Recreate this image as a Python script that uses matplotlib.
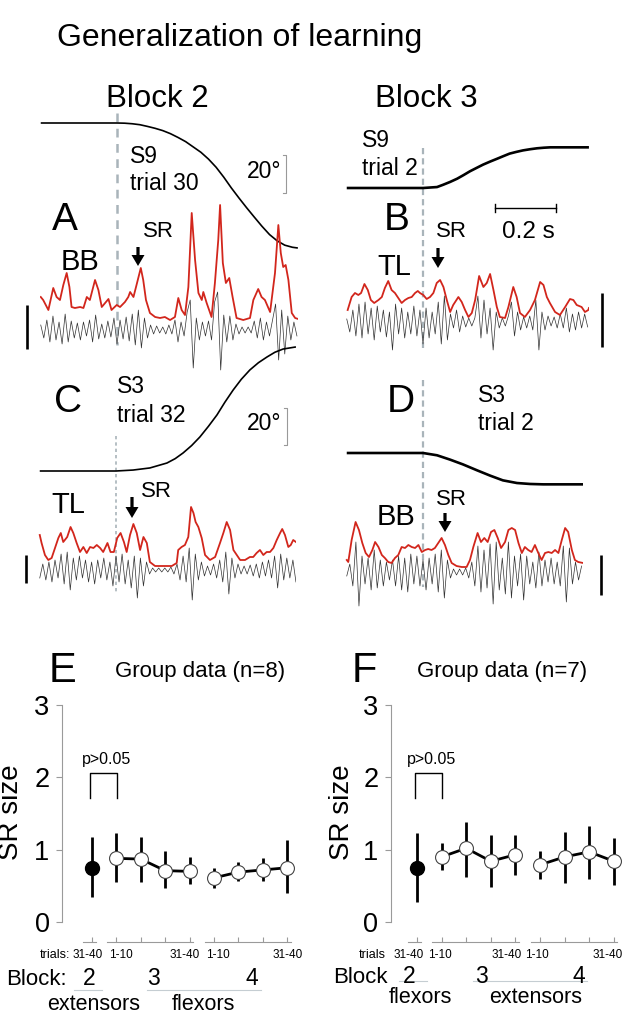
import numpy as np
import matplotlib
matplotlib.use('Agg')
import matplotlib.pyplot as plt
from matplotlib.patches import FancyArrow
from matplotlib.transforms import blended_transform_factory

plt.rcParams['font.family'] = ['Liberation Sans', 'DejaVu Sans']

W, H = 625, 1014

# ------------------------------------------------------------------ data
# joint angle traces (time in ms from perturbation onset, angle in degrees)
angA_t = [-250, 0, 25, 50, 75, 100, 125, 150, 175, 200, 225, 250, 275, 300, 325,
          350, 375, 400, 425, 450, 475, 500, 525, 550, 575, 593]
angA_v = [0, 0, -0.1, -0.4, -0.9, -1.8, -2.8, -4.0, -5.6, -7.6, -9.8, -12.6, -15.4,
          -19.0, -23.3, -28.5, -34.2, -39.5, -44.6, -49.5, -54.3, -58.7, -62.0,
          -64.3, -65.4, -65.8]
angB_t = [-250, 0, 46, 66, 89, 112, 133, 154, 176, 197, 220, 243, 264, 284, 306,
          328, 351, 374, 396, 417, 544]
angB_v = [0, 0, 0.5, 1.7, 3.2, 4.9, 6.8, 8.8, 10.6, 12.3, 13.9, 15.4, 16.8, 18.1,
          19.0, 19.8, 20.4, 20.9, 21.2, 21.4, 21.4]
angC_t = [-250, 0, 56, 111, 167, 194, 220, 248, 275, 303, 331, 357, 384, 411, 439,
          467, 495, 521, 548, 590]
angC_v = [0, 0, 0.5, 1.6, 4.2, 6.5, 9.5, 13.4, 17.9, 23.5, 29.5, 36.2, 42.6, 48.3,
          53.2, 57.0, 60.0, 62.5, 64.2, 65.3]
angD_t = [-250, 0, 46, 89, 131, 177, 220, 262, 308, 351, 394, 525]
angD_v = [0, 0, -1.2, -3.5, -6.0, -9.1, -11.9, -14.4, -15.8, -16.3, -16.5, -16.5]

# rectified / smoothed EMG envelopes (red), arbitrary units
envA_t = [-250, -242, -225, -209, -198, -187, -176, -165, -156, -149, -138, -121, -110,
          -99, -89, -72, -61, -50, -39, -28, -18, -1, 10, 26, 37, 43, 54, 64, 78, 86,
          95, 108, 125, 141, 157, 174, 190, 201, 212, 223, 234, 245, 256, 267, 278,
          283, 294, 310, 321, 332, 338, 347, 357, 368, 379, 392, 414, 436, 447, 463,
          474, 485, 502, 518, 524, 529, 537, 545, 553, 562, 573, 584, 594]
envA_v = [23, 20, 10, 32, 23, 20, 35, 47, 33, 13, 12, 13, 12, 23, 20, 40, 30, 13, 17,
          21, 10, 15, 13, 18, 23, 28, 23, 35, 52, 40, 20, 7, 3, 2, 3, 0, 3, 22, 10, 5,
          33, 107, 60, 27, 20, 28, 17, 3, 37, 80, 115, 57, 37, 42, 23, 2, 0, 2, 20,
          31, 23, 20, 8, 47, 73, 95, 67, 53, 55, 40, 7, 2, 1]
envB_t = [-247, -234, -223, -212, -203, -192, -181, -171, -160, -146, -135, -125, -114,
          -103, -92, -81, -70, -59, -48, -37, -26, -17, -10, 1, 12, 23, 34, 45, 56, 67,
          78, 89, 99, 116, 127, 138, 149, 160, 171, 184, 198, 209, 220, 231, 242, 252,
          269, 280, 296, 307, 318, 334, 351, 367, 384, 395, 406, 416, 433, 449, 466,
          482, 493, 504, 520, 531, 542, 544]
envB_v = [10, 23, 27, 25, 27, 36, 30, 20, 17, 20, 23, 32, 39, 30, 27, 22, 17, 20, 22,
          23, 27, 29, 27, 25, 21, 23, 27, 37, 40, 33, 20, 8, 15, 23, 18, 10, 3, 7, 20,
          44, 33, 37, 46, 30, 13, 3, 2, 13, 33, 23, 7, 3, 10, 20, 38, 35, 23, 17, 8, 5,
          13, 21, 20, 15, 13, 8, 10, 12]
envC_t = [-250, -244, -233, -222, -211, -200, -189, -181, -173, -160, -149, -140, -129,
          -118, -107, -96, -85, -74, -63, -52, -42, -28, -18, -7, 4, 15, 26, 35, 46, 57,
          68, 79, 90, 101, 111, 128, 155, 183, 199, 204, 215, 226, 237, 246, 254, 261,
          270, 281, 292, 308, 325, 341, 352, 363, 374, 385, 396, 407, 423, 439, 450,
          461, 472, 483, 494, 505, 516, 527, 538, 545, 554, 565, 573, 581, 590]
envC_v = [32, 24, 12, 7, 9, 19, 29, 34, 25, 30, 40, 34, 24, 15, 20, 14, 20, 19, 22, 19,
          15, 24, 15, 15, 29, 34, 25, 15, 32, 43, 34, 17, 30, 24, 5, 1, 1, 1, 4, 17,
          20, 22, 30, 60, 54, 45, 40, 29, 12, 7, 10, 24, 34, 45, 37, 17, 12, 7, 7, 10,
          10, 14, 17, 12, 15, 15, 19, 27, 34, 38, 32, 20, 22, 27, 25]
envD_t = [-250, -245, -234, -221, -210, -199, -188, -177, -166, -157, -146, -135, -125,
          -114, -103, -92, -81, -70, -59, -48, -37, -26, -15, -4, 7, 17, 28, 39, 50, 61,
          72, 83, 94, 110, 127, 143, 154, 165, 179, 190, 201, 212, 223, 234, 245, 256,
          269, 280, 291, 302, 313, 324, 334, 345, 356, 367, 378, 389, 400, 411, 422,
          433, 444, 455, 466, 476, 488, 498, 509, 525]
envD_v = [10, 8, 30, 48, 40, 27, 17, 13, 20, 28, 23, 15, 12, 8, 7, 12, 15, 23, 22, 25,
          23, 22, 25, 18, 20, 21, 20, 22, 27, 32, 25, 15, 7, 4, 3, 3, 10, 23, 37, 28,
          32, 28, 38, 40, 32, 22, 28, 40, 42, 40, 27, 17, 23, 20, 18, 25, 17, 10, 17,
          18, 17, 20, 17, 30, 42, 38, 20, 10, 8, 7]

# raw EMG (black), sampled every 10 ms from -250 ms, arbitrary units
rawA_v = [5, -8, 10, -12, 14, -10, 8, -14, 16, -12, 9, -8, 7, -10, 8, -6, 10, -12, 15,
          -9, 6, -8, 9, -7, 12, -14, 10, -9, 13, -11, 16, -15, 20, -18, 12, -8, 5, -4,
          4, -3, 3, -4, 5, -4, 10, -12, 8, -6, 18, 30, -38, 12, -10, 8, -6, 9, -10, 28,
          38, -40, 15, -12, 14, -10, 6, -4, 3, -3, 3, -3, 9, -8, 12, -10, 8, -6, 10,
          26, -30, 20, -24, 14, -10, 8, -6]
rawB_v = [3, -10, 12, -14, 18, -16, 20, -12, 14, -18, 16, -10, 12, -15, 10, -28, 18,
          -12, 14, -16, 10, -12, 16, -14, 12, -22, 14, -16, 10, -12, 20, -22, 26, -18,
          8, -6, 12, -10, 6, -5, 4, -4, 4, 26, -16, 22, -12, 14, -28, 10, -6, 4, -4, 6,
          20, -14, 10, -8, 5, -6, 6, -8, 22, -28, 10, -8, 6, -4, 5, -6, 8, -6, 14, -10,
          8, -8, 10, -6, 8, -5]
rawC_v = [-8, 6, -10, 8, -12, 10, -8, 16, -14, 18, -20, 12, -10, 14, -8, 10, -12, 8,
          -14, 10, -8, 12, -10, 8, -16, 14, -12, 16, -14, 10, -18, 14, -28, 12, -16, 8,
          -4, 2, -2, 2, -2, 2, -2, 3, -4, 6, -10, 14, -12, 22, -30, 16, -10, 8, -6, 4,
          -5, 6, -8, 10, -12, 18, -24, 12, -8, 6, -4, 4, -4, 5, -6, 6, -8, 8, -6, 10,
          -8, 14, -18, 16, -10, 12, -8, 10, -12]
rawD_v = [-4, 8, -14, 30, -34, 16, -12, 14, -18, 22, -16, 12, -14, 10, -8, 12, -14, 16,
          -18, 14, -20, 18, -12, 16, -14, 12, -18, 14, -12, 18, -20, 22, -26, 12, -6, 3,
          -3, 3, -3, 4, -6, 10, -14, 26, -20, 22, -16, 28, -32, 30, -18, 14, -22, 30,
          -26, 16, -14, 18, -28, 16, -12, 10, -16, 20, -14, 12, -10, 14, -12, 10, -14,
          26, -30, 24, -12, 10, -8, 6]
RAW_T0, RAW_DT = -250, 10

# group data (SR size)
trial_labels = ['31-40', '1-10', '', '', '31-40', '1-10', '', '', '31-40']
groups = [[0], [1, 2, 3, 4], [5, 6, 7, 8]]
block_labels = ['2', '3', '4']
E_mean = [0.75, 0.88, 0.87, 0.71, 0.70, 0.61, 0.69, 0.72, 0.75]
E_lo = [0.35, 0.55, 0.55, 0.47, 0.52, 0.47, 0.57, 0.57, 0.40]
E_hi = [1.18, 1.23, 1.18, 0.98, 0.90, 0.75, 0.83, 0.88, 1.13]
F_mean = [0.75, 0.90, 1.02, 0.84, 0.93, 0.79, 0.90, 0.97, 0.84]
F_lo = [0.28, 0.72, 0.62, 0.48, 0.65, 0.59, 0.54, 0.59, 0.51]
F_hi = [1.23, 1.09, 1.38, 1.20, 1.20, 0.98, 1.24, 1.33, 1.16]

# ------------------------------------------------------------------ figure
fig = plt.figure(figsize=(W / 100, H / 100), dpi=100)
fig.patch.set_facecolor('white')


def rect(x0, y0, x1, y1):
    return [x0 / W, 1 - y1 / H, (x1 - x0) / W, (y1 - y0) / H]


ov = fig.add_axes([0, 0, 1, 1])
ov.set_xlim(0, W)
ov.set_ylim(H, 0)
ov.axis('off')

PX_PER_MS = 0.305
DEG_PX = 1.9
RED = '#d2261c'
DASH = '#a9b4ba'


def taxes(xl, xr, x0, ytop, ybot, ylim):
    ax = fig.add_axes(rect(xl, ytop, xr, ybot))
    ax.set_xlim((xl - x0) / PX_PER_MS, (xr - x0) / PX_PER_MS)
    ax.set_ylim(*ylim)
    ax.axis('off')
    return ax


def trace_panel(xl, xr, x0, ang_y, env_y, raw_y, at, av, et, ev, rv, ang_lw):
    a = taxes(xl, xr, x0, ang_y - 160, ang_y + 160, (-160 / DEG_PX, 160 / DEG_PX))
    a.plot(at, av, color='k', lw=ang_lw, solid_capstyle='butt')
    r = taxes(xl, xr, x0, raw_y - 60, raw_y + 60, (-60, 60))
    rt = RAW_T0 + RAW_DT * np.arange(len(rv))
    r.plot(rt, rv, color='#303030', lw=0.5)
    e = taxes(xl, xr, x0, env_y - 130, env_y + 30, (-30, 130))
    e.plot(et, ev, color=RED, lw=1.3)


trace_panel(40, 298, 117, 123, 320, 330, angA_t, angA_v, envA_t, envA_v, rawA_v, 1.2)
trace_panel(346, 589, 423, 188, 320, 322, angB_t, angB_v, envB_t, envB_v, rawB_v, 1.9)
trace_panel(37, 296, 116, 471, 567, 570, angC_t, angC_v, envC_t, envC_v, rawC_v, 1.2)
trace_panel(345, 583, 423, 453, 570, 572, angD_t, angD_v, envD_t, envD_v, rawD_v, 1.9)

# onset dashed lines
ov.plot([117, 117], [113, 345], color=DASH, lw=1.8, dashes=(3.5, 2.6))
ov.plot([423, 423], [148, 348], color=DASH, lw=1.6, dashes=(2.8, 1.8))
ov.plot([116, 116], [436, 593], color=DASH, lw=1.2, dashes=(2.0, 1.8))
ov.plot([423, 423], [380, 587], color=DASH, lw=1.6, dashes=(2.8, 1.8))

# EMG scale bars
for x, y0, y1 in [(27, 305, 349), (602, 293, 347), (26, 555, 583), (601, 555, 595)]:
    ov.plot([x, x], [y0, y1], color='k', lw=1.9, solid_capstyle='butt')

# 20 deg bars
for x, y0, y1 in [(286, 155, 193), (287, 408, 445)]:
    ov.plot([x - 3, x, x, x - 3], [y0, y0, y1, y1], color='#999999', lw=0.8)

# 0.2 s time bar
tb0 = 495
tb1 = tb0 + 200 * PX_PER_MS
ov.plot([tb0, tb1], [208, 208], color='k', lw=1.0)
ov.plot([tb0, tb0], [204, 212], color='k', lw=1.0)
ov.plot([tb1, tb1], [204, 212], color='k', lw=1.0)

# SR arrows
for x, y0, y1 in [(138, 247, 266), (438, 248, 268), (132, 497, 518), (445, 513, 532)]:
    ov.add_patch(FancyArrow(x, y0, 0, y1 - y0, width=3.2, head_width=13, head_length=11,
                            length_includes_head=True, color='k', lw=0))

T = lambda x, y, s, fs, **kw: ov.text(x, y, s, fontsize=fs, ha=kw.pop('ha', 'left'),
                                      va='baseline', **kw)
T(57, 46, 'Generalization of learning', 23)
T(106, 107, 'Block 2', 22.5)
T(375, 107, 'Block 3', 22.5)
T(502, 238, '0.2 s', 17.5)
# panel A
T(130, 163, 'S9', 16.5)
T(130, 190, 'trial 30', 16.5)
T(247, 178, '20°', 16.5)
T(52, 230, 'A', 28)
T(61, 270, 'BB', 21)
T(143, 237, 'SR', 16)
# panel B
T(362, 147, 'S9', 16.5)
T(362, 175, 'trial 2', 16.5)
T(384, 230, 'B', 28)
T(436, 237, 'SR', 16)
T(377, 275, 'TL', 21)
# panel C
T(54, 412, 'C', 28)
T(117, 393, 'S3', 16.5)
T(117, 422, 'trial 32', 16.5)
T(247, 430, '20°', 16.5)
T(51, 513, 'TL', 21)
T(141, 497, 'SR', 16)
# panel D
T(387, 412, 'D', 28)
T(478, 402, 'S3', 16.5)
T(478, 430, 'trial 2', 16.5)
T(377, 525, 'BB', 21)
T(436, 505, 'SR', 16)


# ------------------------------------------------------------------ group panels
def group_panel(xl, x_zero, sp, xr, mean, lo, hi, letter, letter_x, title, title_x,
                ylab_x, trials_word, trials_x, block_word, block_x, block_pos, block_y,
                muscles, muscle_pos, label_off, underline_y, muscle_y):
    y_top, y_bot = 705, 922
    ax = fig.add_axes(rect(xl, y_top, xr, y_bot))
    ax.set_facecolor('none')
    ax.set_xlim(-(x_zero - xl) / sp, (xr - x_zero) / sp)
    ax.set_ylim(0, 3)
    for s in ['top', 'right', 'bottom']:
        ax.spines[s].set_visible(False)
    ax.spines['left'].set_color('#9a9a9a')
    ax.spines['left'].set_linewidth(0.8)
    ax.set_xticks([])
    ax.set_yticks([0, 1, 2, 3])
    ax.tick_params(axis='y', length=4, width=0.8, color='#9a9a9a', labelsize=19.5, pad=5)
    x = np.arange(len(mean))
    m = np.array(mean)
    ax.vlines(x, lo, hi, color='k', lw=2.0, zorder=2)
    for g in groups[1:]:
        ax.plot(x[g], m[g], color='k', lw=2.0, zorder=3)
    ax.plot(x[1:], m[1:], 'o', mfc='white', mec='#444444', mew=0.8, ms=10, zorder=4)
    ax.plot(x[:1], m[:1], 'o', color='k', ms=10, zorder=4)
    # significance bracket
    ax.plot([-0.1, -0.1, 1.02, 1.02], [1.71, 2.06, 2.06, 1.71], color='k', lw=1.0,
            clip_on=False)
    ax.text(0.58, 2.24, 'p>0.05', fontsize=11.5, ha='center', va='center')

    ay = lambda py: (y_bot - py) / (y_bot - y_top)
    tr = blended_transform_factory(ax.transData, ax.transAxes)
    for g in groups:
        ax.plot([x[g[0]] - 0.38, x[g[-1]] + 0.15], [ay(942)] * 2, transform=tr,
                color='#9a9a9a', lw=0.8, clip_on=False)
    ax.vlines(x, ay(942), ay(937), transform=tr, color='#9a9a9a', lw=0.8, clip_on=False)
    for xi, lab, off in zip(x, trial_labels, label_off):
        if lab:
            ax.text(xi + off, ay(955), lab, fontsize=8.5, ha='center', va='center',
                    transform=tr, clip_on=False)
    for p, lab in zip(block_pos, block_labels):
        ax.text(p, ay(block_y), lab, fontsize=16.5, ha='center', va='baseline',
                transform=tr)
    ax.plot([-0.75, 0.42], [ay(underline_y)] * 2, transform=tr, color='#c5cdd2', lw=0.8,
            clip_on=False)
    ax.plot([2.27, 6.92], [ay(underline_y)] * 2, transform=tr, color='#c5cdd2', lw=0.8,
            clip_on=False)
    for p, lab in zip(muscle_pos, muscles):
        ax.text(p, ay(muscle_y), lab, fontsize=15.5, ha='center', va='baseline',
                transform=tr)

    fig.text(letter_x / W, 1 - 682 / H, letter, fontsize=30, ha='left', va='baseline')
    fig.text(title_x / W, 1 - 677 / H, title, fontsize=16, ha='left', va='baseline')
    fig.text(ylab_x / W, 1 - 812 / H, 'SR size', fontsize=20, rotation=90, ha='center',
             va='center')
    fig.text(trials_x / W, 1 - 955 / H, trials_word, fontsize=9, ha='right', va='center')
    fig.text(block_x / W, 1 - block_y / H, block_word, fontsize=16, ha='right',
             va='baseline')


group_panel(62, 92, 24.4, 305, E_mean, E_lo, E_hi, 'E', 49, 'Group data (n=8)', 115,
            11, 'trials:', 70, 'Block:', 67, [-0.1, 2.52, 6.54], 985,
            ['extensors', 'flexors'], [0.05, 4.57],
            [-0.17, 0.2, 0, 0, -0.2, 0.15, 0, 0, 0.0], 990, 1010)
group_panel(391, 417, 24.6, 624, F_mean, F_lo, F_hi, 'F', 352, 'Group data (n=7)', 417,
            342, 'trials', 386, 'Block', 388, [-0.33, 2.62, 6.57], 983,
            ['flexors', 'extensors'], [0.12, 4.84],
            [-0.33, -0.08, 0, 0, -0.37, -0.14, 0, 0, -0.26], 981, 1003)

fig.savefig('out.png', dpi=100, facecolor='white')
